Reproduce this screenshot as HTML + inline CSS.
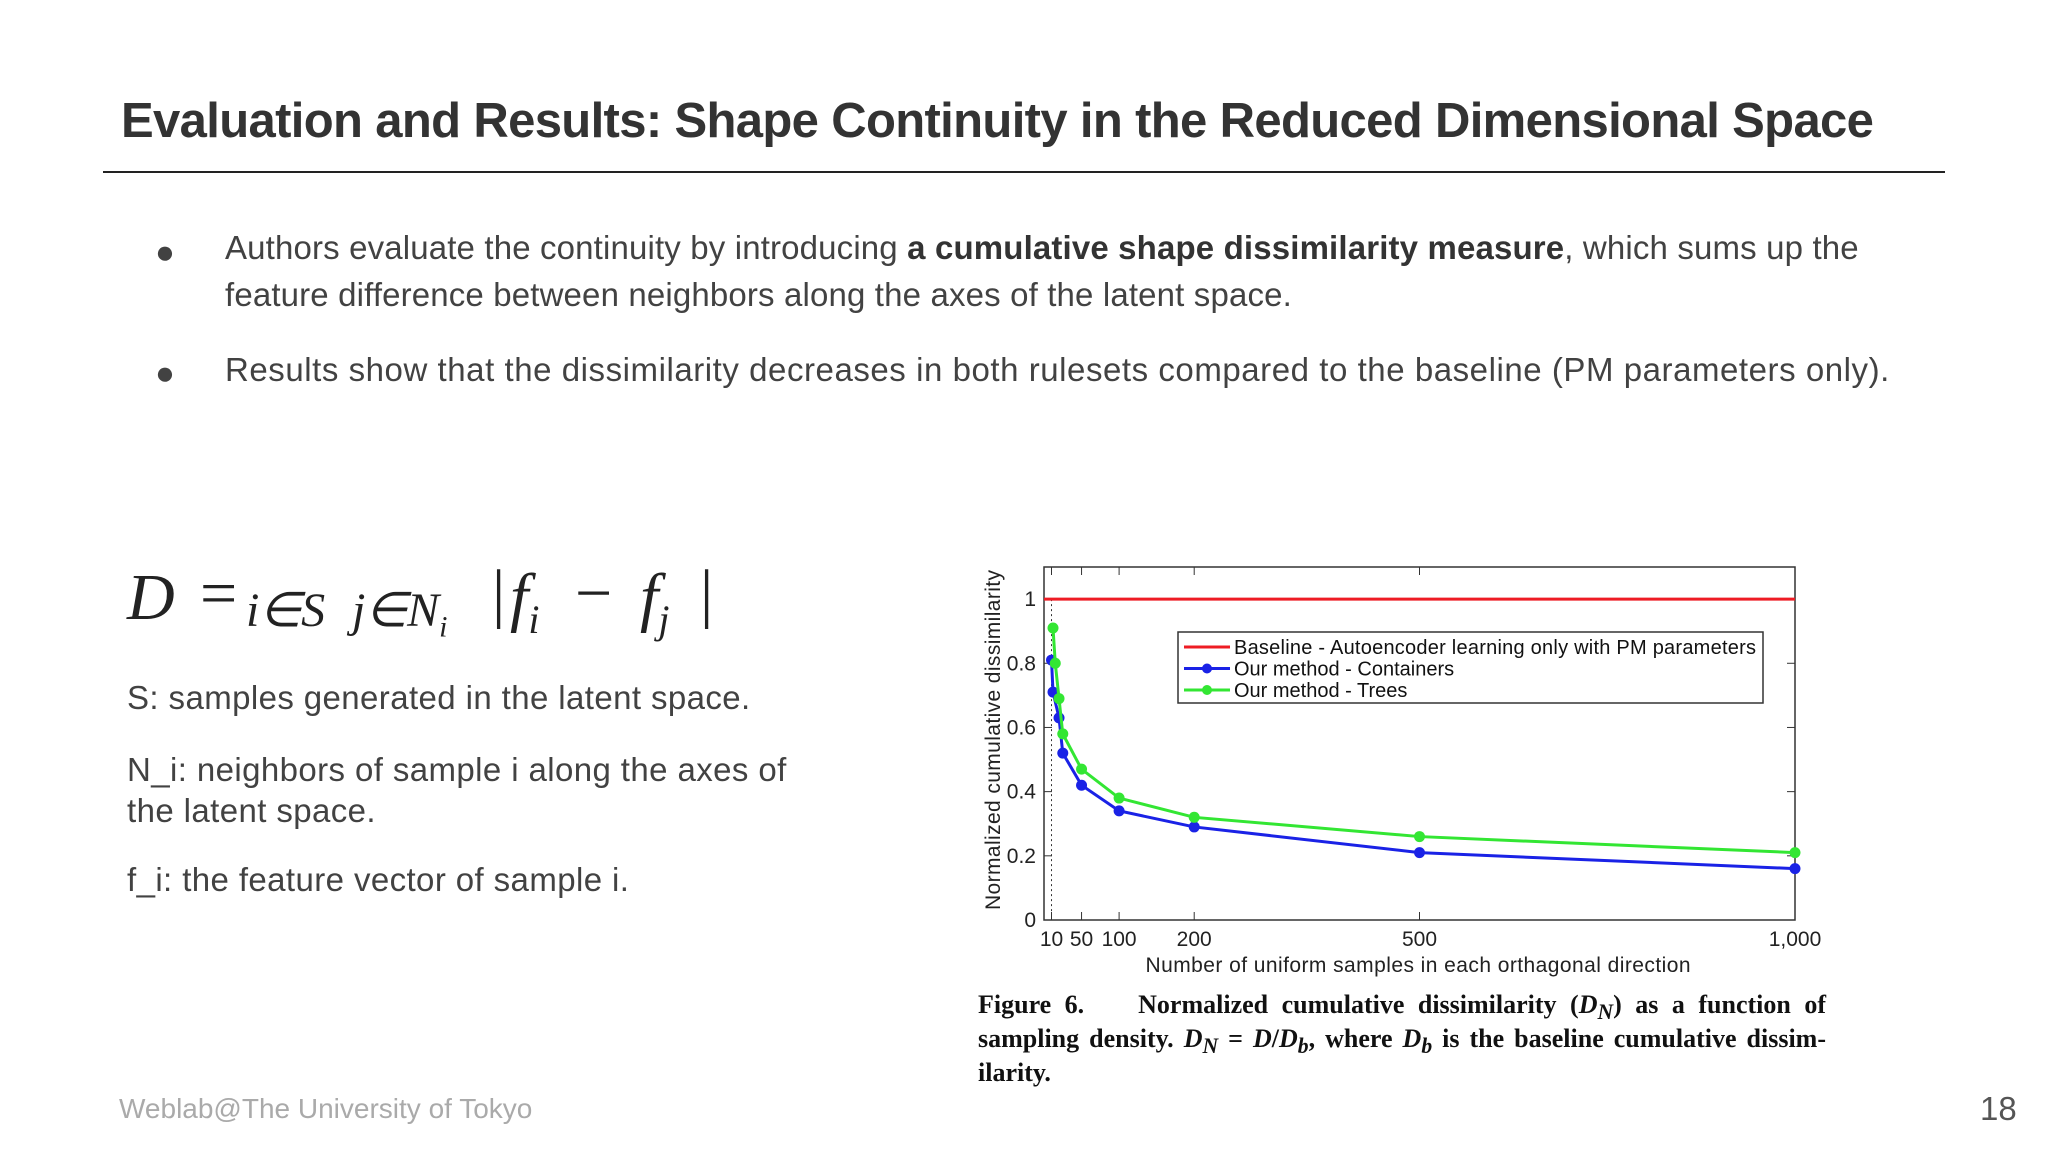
<!DOCTYPE html>
<html><head><meta charset="utf-8"><style>
body{margin:0;width:2048px;height:1152px;background:#fff;position:relative;overflow:hidden;font-family:"Liberation Sans",sans-serif;color:#424242}
.abs{position:absolute;white-space:nowrap}
.cap sub{line-height:0}
.f{position:absolute;font-family:'Liberation Serif',serif;font-style:italic;color:#222;white-space:nowrap}
</style></head><body>
<div class="abs" style="left:121px;top:93px;font-size:49px;font-weight:bold;color:#333;letter-spacing:-0.65px">Evaluation and Results: Shape Continuity in the Reduced Dimensional Space</div>
<div class="abs" style="left:103px;top:171px;width:1842px;height:2px;background:#222"></div>
<div class="abs" style="left:155px;top:228px;font-size:33px;line-height:47px">●</div>
<div class="abs" style="left:225px;top:224px;font-size:33px;line-height:47px;letter-spacing:0.15px">Authors evaluate the continuity by introducing <b style="color:#333">a cumulative shape dissimilarity measure</b>, which sums up the<br>feature difference between neighbors along the axes of the latent space.</div>
<div class="abs" style="left:155px;top:349px;font-size:33px;line-height:47px">●</div>
<div class="abs" style="left:225px;top:346px;font-size:33px;line-height:47px;letter-spacing:0.55px">Results show that the dissimilarity decreases in both rulesets compared to the baseline (PM parameters only).</div>
<div>
<span class="f" style="left:127px;top:560px;font-size:66px">D</span>
<span class="f" style="left:200px;top:556px;font-size:66px;font-style:normal">=</span>
<span class="f" style="left:246px;top:582px;font-size:48px">i∈S</span>
<span class="f" style="left:352px;top:582px;font-size:48px">j∈N<sub style="font-size:30px">i</sub></span>
<span class="f" style="left:492px;top:556px;font-size:66px;font-style:normal">|</span>
<span class="f" style="left:510px;top:560px;font-size:66px">f<sub style="font-size:40px">i</sub></span>
<span class="f" style="left:575px;top:556px;font-size:66px;font-style:normal">−</span>
<span class="f" style="left:640px;top:560px;font-size:66px">f<sub style="font-size:40px">j</sub></span>
<span class="f" style="left:700px;top:556px;font-size:66px;font-style:normal">|</span>
</div>
<div class="abs" style="left:127px;top:679px;font-size:33px;letter-spacing:0.4px">S: samples generated in the latent space.</div>
<div class="abs" style="left:127px;top:749px;font-size:33px;line-height:41px;letter-spacing:0.4px">N_i: neighbors of sample i along the axes of<br>the latent space.</div>
<div class="abs" style="left:127px;top:861px;font-size:33px;letter-spacing:0.4px">f_i: the feature vector of sample i.</div>
<div class="abs cap" style="left:978px;top:988px;width:848px;font-family:'Liberation Serif',serif;font-weight:bold;font-size:26px;line-height:34px;color:#111;white-space:normal;text-align:justify">Figure 6.&nbsp;&nbsp;&nbsp; Normalized cumulative dissimilarity (<i>D<sub>N</sub></i>) as a function of sampling density. <i>D<sub>N</sub></i> = <i>D</i>/<i>D<sub>b</sub></i>, where <i>D<sub>b</sub></i> is the baseline cumulative dissim-ilarity.</div>
<div class="abs" style="left:119px;top:1093px;font-size:28px;color:#aaa">Weblab@The University of Tokyo</div>
<div class="abs" style="left:1980px;top:1090px;font-size:33px;color:#555">18</div>
<svg id="chart" width="2048" height="1152" style="position:absolute;left:0;top:0" font-family="Liberation Sans, sans-serif"></svg>
<script>
const xTicks=[10,50,100,200,500,1000];
const xTickLabels=["10","50","100","200","500","1,000"];
const yTicks=[0,0.2,0.4,0.6,0.8,1];
const yTickLabels=["0","0.2","0.4","0.6","0.8","1"];
const blueX=[10,12,20,25,50,100,200,500,1000];
const blueY=[0.81,0.71,0.63,0.52,0.42,0.34,0.29,0.21,0.16];
const greenX=[12,15,20,25,50,100,200,500,1000];
const greenY=[0.91,0.80,0.69,0.58,0.47,0.38,0.32,0.26,0.21];
const baselineY=[1,1];
const L=1044,R=1795,T=567,B=920;
const sx=v=>L+(v/1000)*(R-L);
const sy=v=>B-(v/1.1)*(B-T);
const svg=document.getElementById('chart');
const NS='http://www.w3.org/2000/svg';
function mk(tag,attrs,parent){const e=document.createElementNS(NS,tag);for(const k in attrs)e.setAttribute(k,attrs[k]);(parent||svg).appendChild(e);return e;}
let e=mk('rect',{x:L,y:T,width:R-L,height:B-T,fill:'#fff',stroke:'#333','stroke-width':1.5});


xTicks.forEach((t,i)=>{
 mk('line',{x1:sx(t),x2:sx(t),y1:B,y2:B-8,stroke:'#333'});
 mk('line',{x1:sx(t),x2:sx(t),y1:T,y2:T+8,stroke:'#333'});
 const tx=mk('text',{x:sx(t),y:B+26,'font-size':21,'text-anchor':'middle',fill:'#222'});tx.textContent=xTickLabels[i];
 
 
});
yTicks.forEach((t,i)=>{
 mk('line',{x1:L,x2:L+8,y1:sy(t),y2:sy(t),stroke:'#333'});
 mk('line',{x1:R,x2:R-8,y1:sy(t),y2:sy(t),stroke:'#333'});
 const tx=mk('text',{x:L-8,y:sy(t)+7,'font-size':21,'text-anchor':'end',fill:'#222'});tx.textContent=yTickLabels[i];
 
 
});
mk('line',{x1:sx(10),x2:sx(10),y1:sy(1),y2:B,stroke:'#333','stroke-dasharray':'2,3'});
e=mk('line',{x1:sx(0),x2:sx(1000),y1:sy(baselineY[0]),y2:sy(baselineY[1]),stroke:'#ee1c24','stroke-width':3});


function series(xs,ys,col,name){
 const p=mk('polyline',{points:xs.map((x,i)=>sx(x)+','+sy(ys[i])).join(' '),fill:'none',stroke:col,'stroke-width':3});
 
 
 xs.forEach((x,i)=>{const c=mk('circle',{cx:sx(x),cy:sy(ys[i]),r:5.5,fill:col});
  
  });
}
series(blueX,blueY,'#1a22e6','containers');
series(greenX,greenY,'#33e633','trees');
const lg=mk('g',{});


mk('rect',{x:1178,y:632,width:585,height:71,fill:'#fff',stroke:'#333','stroke-width':1.5},lg);
const items=[['Baseline - Autoencoder learning only with PM parameters','#ee1c24',false],['Our method - Containers','#1a22e6',true],['Our method - Trees','#33e633',true]];
items.forEach((it,i)=>{const y=647+i*21.5;
 mk('line',{x1:1184,x2:1230,y1:y,y2:y,stroke:it[1],'stroke-width':3},lg);
 if(it[2])mk('circle',{cx:1207,cy:y,r:5,fill:it[1]},lg);
 const t=mk('text',{x:1234,y:y+7,'font-size':20,fill:'#111',textLength:i==0?522:0},lg);t.textContent=it[0];
 if(i>0)t.removeAttribute('textLength');
 
 });
let t=mk('text',{x:1418,y:972,'font-size':21,'text-anchor':'middle',fill:'#222',textLength:545});t.textContent='Number of uniform samples in each orthagonal direction';


t=mk('text',{x:0,y:0,'font-size':21,'text-anchor':'middle',fill:'#222',textLength:340,transform:'translate(1000,740) rotate(-90)'});t.textContent='Normalized cumulative dissimilarity';


</script>
</body></html>
